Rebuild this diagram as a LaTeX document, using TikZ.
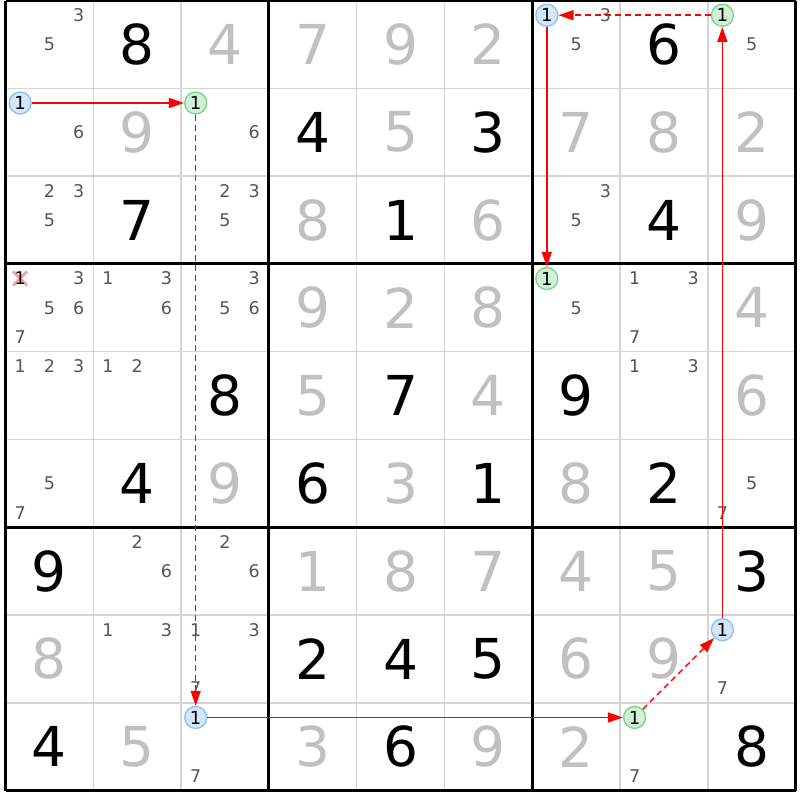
\documentclass[tikz,border=0pt]{standalone}
\usepackage{fontspec}
\setmainfont{DejaVu Sans}
\usetikzlibrary{arrows.meta}
\definecolor{solvedc}{HTML}{C0C0C0}
\definecolor{candc}{HTML}{555555}
\definecolor{thinline}{HTML}{D4D4D4}
\definecolor{bluefill}{HTML}{D6E6FA}
\definecolor{bluedraw}{HTML}{8EC2F4}
\definecolor{greenfill}{HTML}{D2F0D8}
\definecolor{greendraw}{HTML}{7ED68E}
\definecolor{linkred}{HTML}{FF0000}
\definecolor{crossc}{HTML}{F4A0A8}
\def\XO{5.5}
\def\YO{0.6}
\def\CS{87.78}
\begin{document}
\begin{tikzpicture}[x=1pt,y=-1pt,
  bigdigit/.style={inner sep=0pt, font=\fontsize{55}{55}\selectfont},
  given/.style={bigdigit, text=black},
  solved/.style={bigdigit, text=solvedc},
  canddigit/.style={inner sep=0pt, text=candc, font=\fontsize{17.5}{17.5}\selectfont},
  markc/.style={circle, line width=1.4pt, minimum size=22pt, inner sep=0pt, text=black, font=\fontsize{18}{18}\selectfont},
  bluec/.style={markc, draw=bluedraw, fill=bluefill},
  greenc/.style={markc, draw=greendraw, fill=greenfill},
  thingrid/.style={draw=thinline, line width=1.5pt},
  thickgrid/.style={draw=black, line width=3pt},
  stronglink/.style={draw=linkred, color=linkred, line width=1.5pt, -{Triangle[length=15pt,width=10pt]}},
  weaklink/.style={stronglink, dash pattern=on 6pt off 4pt},
  crossmark/.style={draw=crossc, line width=2.8pt}
]
\useasboundingbox[fill=white] (0,0) rectangle (800,800);
% grid
\foreach \i in {1,2,4,5,7,8}{
  \draw[thingrid] ({\XO+\i*\CS},\YO) -- ({\XO+\i*\CS},{\YO+9*\CS});
  \draw[thingrid] (\XO,{\YO+\i*\CS}) -- ({\XO+9*\CS},{\YO+\i*\CS});
}
\foreach \i in {0,3,6,9}{
  \draw[thickgrid] ({\XO+\i*\CS},\YO) -- ({\XO+\i*\CS},{\YO+9*\CS});
  \draw[thickgrid] (\XO,{\YO+\i*\CS}) -- ({\XO+9*\CS},{\YO+\i*\CS});
}
% given digits
\foreach \r/\c/\d in {1/2/8,1/8/6,2/4/4,2/6/3,3/2/7,3/5/1,3/8/4,5/3/8,5/5/7,5/7/9,6/2/4,6/4/6,6/6/1,6/8/2,7/1/9,7/9/3,8/4/2,8/5/4,8/6/5,9/1/4,9/5/6,9/9/8}{
  \node[given] (g-\r-\c) at ({\XO+(\c-0.5)*\CS},{\YO+(\r-0.5)*\CS}) {\d};
}
% solved digits
\foreach \r/\c/\d in {1/3/4,1/4/7,1/5/9,1/6/2,2/2/9,2/5/5,2/7/7,2/8/8,2/9/2,3/4/8,3/6/6,3/9/9,4/4/9,4/5/2,4/6/8,4/9/4,5/4/5,5/6/4,5/9/6,6/3/9,6/5/3,6/7/8,7/4/1,7/5/8,7/6/7,7/7/4,7/8/5,8/1/8,8/7/6,8/8/9,9/2/5,9/4/3,9/6/9,9/7/2}{
  \node[solved] (s-\r-\c) at ({\XO+(\c-0.5)*\CS},{\YO+(\r-0.5)*\CS}) {\d};
}
% crossed candidate r4c1
\coordinate (xc) at ({\XO+\CS/6},{\YO+3*\CS+\CS/6});
\draw[crossmark] ([shift={(-7,-7)}]xc) -- ([shift={(7,7)}]xc);
\draw[crossmark] ([shift={(-7,7)}]xc) -- ([shift={(7,-7)}]xc);
\node[canddigit, text=black] (x-4-1) at (xc) {1};
% candidates
\foreach \r/\c/\lst in {1/1/{3,5},1/7/{3,5},1/9/{5},2/1/{6},2/3/{6},3/1/{2,3,5},3/3/{2,3,5},3/7/{3,5},4/1/{3,5,6,7},4/2/{1,3,6},4/3/{3,5,6},4/7/{5},4/8/{1,3,7},5/1/{1,2,3},5/2/{1,2},5/8/{1,3},6/1/{5,7},6/9/{5,7},7/2/{2,6},7/3/{2,6},8/2/{1,3},8/3/{1,3,7},8/9/{7},9/3/{7},9/8/{7}}{
  \foreach \n in \lst {
    \pgfmathtruncatemacro\cx{mod(\n-1,3)}
    \pgfmathtruncatemacro\cy{div(\n-1,3)}
    \node[canddigit] (c-\r-\c-\n) at ({\XO+(\c-1)*\CS+(\cx+0.5)*\CS/3},{\YO+(\r-1)*\CS+(\cy+0.5)*\CS/3}) {\n};
  }
}
% marked candidates (digit 1)
\node[bluec]  (b1) at ({\XO+0*\CS+\CS/6},{\YO+1*\CS+\CS/6}) {1};
\node[greenc] (g1) at ({\XO+2*\CS+\CS/6},{\YO+1*\CS+\CS/6}) {1};
\node[bluec]  (b2) at ({\XO+2*\CS+\CS/6},{\YO+8*\CS+\CS/6}) {1};
\node[greenc] (g2) at ({\XO+7*\CS+\CS/6},{\YO+8*\CS+\CS/6}) {1};
\node[bluec]  (b3) at ({\XO+8*\CS+\CS/6},{\YO+7*\CS+\CS/6}) {1};
\node[greenc] (g3) at ({\XO+8*\CS+\CS/6},{\YO+0*\CS+\CS/6}) {1};
\node[bluec]  (b4) at ({\XO+6*\CS+\CS/6},{\YO+0*\CS+\CS/6}) {1};
\node[greenc] (g4) at ({\XO+6*\CS+\CS/6},{\YO+3*\CS+\CS/6}) {1};
% chain
\draw[stronglink] (b1) -- (g1);
\draw[weaklink] (g1) -- (b2);
\draw[stronglink] (b2) -- (g2);
\draw[weaklink] (g2) -- (b3);
\draw[stronglink] (b3) -- (g3);
\draw[weaklink] (g3) -- (b4);
\draw[stronglink] (b4) -- (g4);
\end{tikzpicture}
\end{document}
